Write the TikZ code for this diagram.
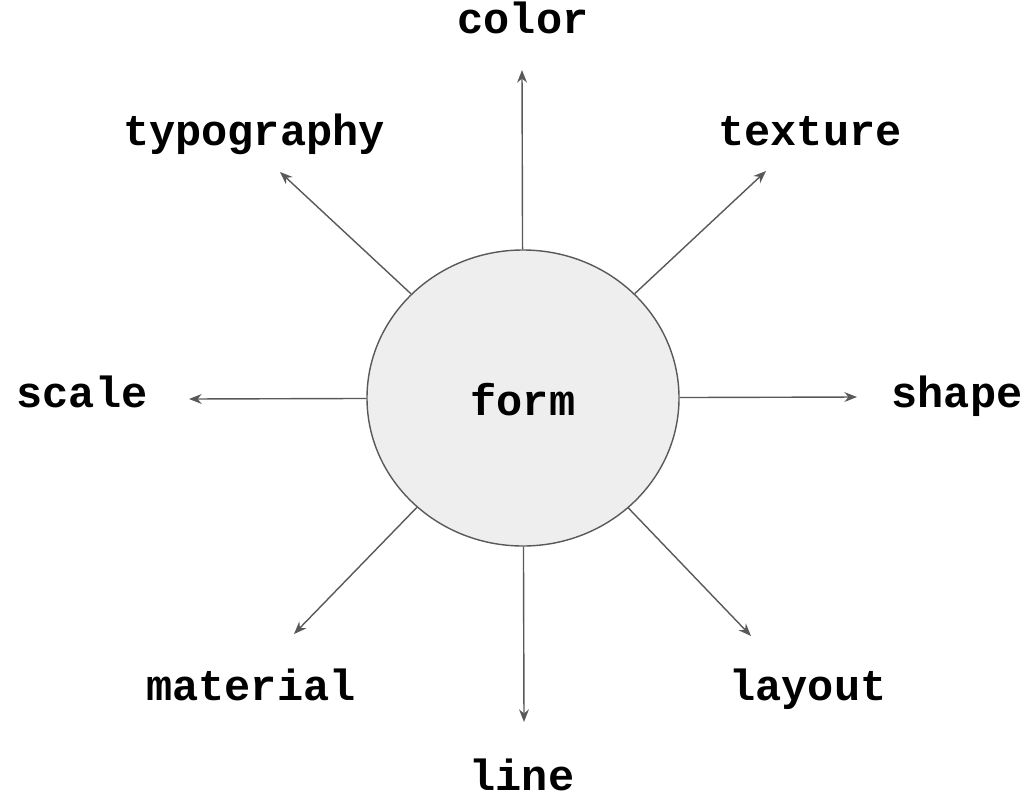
\documentclass[tikz,border=0pt]{standalone}
\usepackage{fontspec}
\setmonofont{Liberation Mono}
\usepackage{tikz}
\usetikzlibrary{shapes.geometric,arrows.meta}
\definecolor{linegray}{HTML}{595959}
\definecolor{formfill}{HTML}{EEEEEE}

\begin{document}
\begin{tikzpicture}[x=0.025cm,y=-0.025cm,
    lbl/.style={font=\fontsize{31pt}{36pt}\selectfont\ttfamily\bfseries},
    word/.style={lbl,anchor=base,inner sep=0pt},
    ray/.style={linegray,line width=1pt,-{Stealth[length=9pt,width=7pt]}}]
  \useasboundingbox (0,0) rectangle (1031,803);
  \node[ellipse,draw=linegray,line width=1pt,fill=formfill,inner sep=0pt,
        minimum width=312*0.025cm,minimum height=296*0.025cm] (form) at (523,398) {};
  \node[word] (formtxt) at (523,415) {form};
  % arrow ends
  \coordinate (tcolor) at (522,70);
  \coordinate (ttexture) at (766,171);
  \coordinate (tshape) at (857,397);
  \coordinate (tlayout) at (751,636);
  \coordinate (tline) at (524,722);
  \coordinate (tmaterial) at (294,634);
  \coordinate (tscale) at (189,399);
  \coordinate (ttypo) at (280,172);
  \foreach \t in {tcolor,ttexture,tshape,tlayout,tline,tmaterial,tscale,ttypo}
    \draw[ray] (form) -- (\t);
  % labels
  \node[word] (color) at (523,33) {color};
  \node[word] (typography) at (254,145) {typography};
  \node[word] (texture) at (810,145) {texture};
  \node[word] (scale) at (82,407) {scale};
  \node[word] (shape) at (957,407) {shape};
  \node[word] (material) at (251,700) {material};
  \node[word] (layout) at (808,700) {layout};
  \node[word] (line) at (522,790) {line};
\end{tikzpicture}
\end{document}
